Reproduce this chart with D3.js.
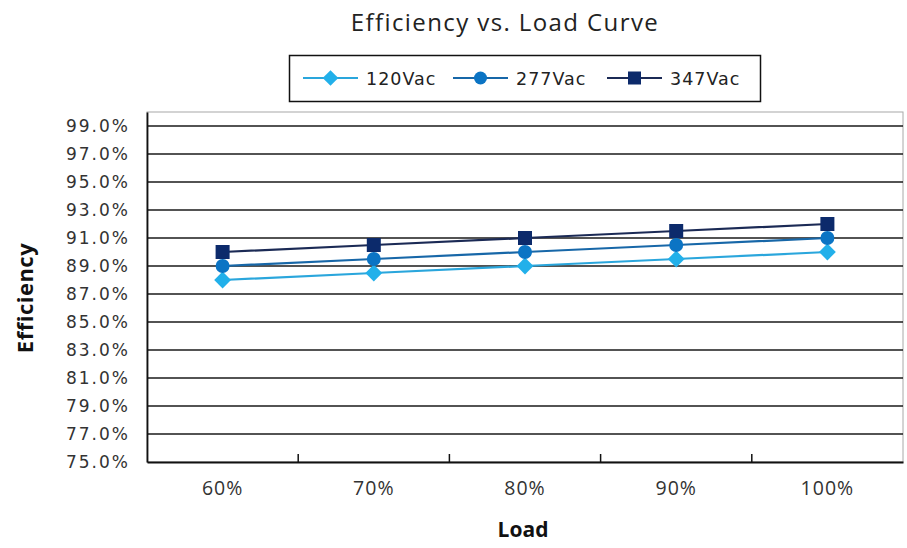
<!DOCTYPE html>
<html>
<head>
<meta charset="utf-8">
<script src="https://cdn.jsdelivr.net/npm/d3@7"></script>
<style>
  html, body { margin: 0; padding: 0; background: #fff; }
  svg { display: block; }
</style>
</head>
<body>
<svg id="chart" width="907" height="548"></svg>
<script>
// Load points along the x axis
const loads = ["60%", "70%", "80%", "90%", "100%"];
// Efficiency (%) per input voltage
const eff120 = [88.0, 88.5, 89.0, 89.5, 90.0];
const eff277 = [89.0, 89.5, 90.0, 90.5, 91.0];
const eff347 = [90.0, 90.5, 91.0, 91.5, 92.0];
const seriesNames = ["120Vac", "277Vac", "347Vac"];
// Y axis tick values
const yTicks = [75, 77, 79, 81, 83, 85, 87, 89, 91, 93, 95, 97, 99];

const series = [
  { name: seriesNames[0], values: eff120, color: "#22b0ea", line: "#2aa6dc", marker: "diamond" },
  { name: seriesNames[1], values: eff277, color: "#0b74c4", line: "#1767a8", marker: "circle" },
  { name: seriesNames[2], values: eff347, color: "#0c2a6b", line: "#1b2a55", marker: "square" }
];

const svg = d3.select("#chart");
const plot = { left: 147, right: 903, top: 112, bottom: 462 };

const x = d3.scaleBand().domain(loads).range([plot.left, plot.right]);
const y = d3.scaleLinear().domain([75, 100]).range([plot.bottom, plot.top]);

// Plot frame (light top/right edges)
svg.append("rect")
  .attr("x", plot.left).attr("y", plot.top)
  .attr("width", plot.right - plot.left).attr("height", plot.bottom - plot.top)
  .attr("fill", "#fff").attr("stroke", "#a8a8a8").attr("stroke-width", 1);

// Horizontal gridlines
svg.append("g")
  .selectAll("line")
  .data(yTicks.slice(1))
  .join("line")
  .attr("x1", plot.left).attr("x2", plot.right)
  .attr("y1", d => y(d)).attr("y2", d => y(d))
  .attr("stroke", "#1a1a1a").attr("stroke-width", 1.6);

// Y axis
const yAxis = svg.append("g")
  .attr("transform", `translate(${plot.left},0)`)
  .call(d3.axisLeft(y).tickValues(yTicks).tickSize(0).tickPadding(17)
    .tickFormat(d => d.toFixed(1) + "%"));
yAxis.select(".domain").attr("stroke", "#111").attr("stroke-width", 1.8);
yAxis.selectAll("text")
  .attr("font-family", "DejaVu Sans, Verdana, sans-serif")
  .attr("font-size", 17)
  .attr("letter-spacing", 2)
  .attr("fill", "#333");

// X axis with inward tick marks at category boundaries
const xAxis = svg.append("g")
  .attr("transform", `translate(0,${plot.bottom})`)
  .call(d3.axisBottom(x).tickSize(0).tickPadding(19));
xAxis.select(".domain").attr("stroke", "#111").attr("stroke-width", 1.8);
xAxis.selectAll("text")
  .attr("font-family", "Open Sans, sans-serif")
  .attr("font-size", 19.5)
  .attr("letter-spacing", 1)
  .attr("fill", "#333");
xAxis.selectAll(".boundary")
  .data(loads.slice(1))
  .join("line")
  .attr("class", "boundary")
  .attr("x1", d => x(d)).attr("x2", d => x(d))
  .attr("y1", 0).attr("y2", -8)
  .attr("stroke", "#111").attr("stroke-width", 1.5);

// Marker shapes
function drawMarker(sel, kind, color, size) {
  if (kind === "square") {
    sel.append("rect")
      .attr("x", -size / 2).attr("y", -size / 2)
      .attr("width", size).attr("height", size)
      .attr("fill", color);
  } else if (kind === "circle") {
    sel.append("circle").attr("r", size / 2).attr("fill", color);
  } else {
    const h = size * 0.6;
    sel.append("path")
      .attr("d", `M0,${-h}L${h},0L0,${h}L${-h},0Z`)
      .attr("fill", color);
  }
}

const line = d3.line()
  .x((d, i) => x(loads[i]) + x.bandwidth() / 2)
  .y(d => y(d));

const dataG = svg.append("g");
series.forEach(s => {
  dataG.append("path")
    .datum(s.values)
    .attr("d", line)
    .attr("fill", "none")
    .attr("stroke", s.line)
    .attr("stroke-width", 2.2);
});
series.forEach(s => {
  s.values.forEach((v, i) => {
    const g = dataG.append("g")
      .attr("transform", `translate(${x(loads[i]) + x.bandwidth() / 2},${y(v)})`);
    drawMarker(g, s.marker, s.color, 14);
  });
});

// Title
svg.append("text")
  .attr("x", 505).attr("y", 31)
  .attr("text-anchor", "middle")
  .attr("font-family", "Open Sans, sans-serif")
  .attr("font-size", 24)
  .attr("letter-spacing", 1.4)
  .attr("fill", "#222")
  .text("Efficiency vs. Load Curve");

// Axis titles
svg.append("text")
  .attr("x", 523).attr("y", 537)
  .attr("text-anchor", "middle")
  .attr("font-family", "Open Sans, sans-serif")
  .attr("font-weight", "bold")
  .attr("font-size", 21)
  .attr("fill", "#111")
  .text("Load");

svg.append("text")
  .attr("transform", "translate(33,298) rotate(-90)")
  .attr("text-anchor", "middle")
  .attr("font-family", "Open Sans, sans-serif")
  .attr("font-weight", "bold")
  .attr("font-size", 22)
  .attr("letter-spacing", 0.5)
  .attr("fill", "#111")
  .text("Efficiency");

// Legend
const legend = svg.append("g");
legend.append("rect")
  .attr("x", 289.5).attr("y", 55.5)
  .attr("width", 471).attr("height", 46)
  .attr("fill", "#fff").attr("stroke", "#111").attr("stroke-width", 1.5);
const legendX = [303, 453, 607];
series.forEach((s, i) => {
  const g = legend.append("g").attr("transform", `translate(${legendX[i]},78)`);
  g.append("line").attr("x1", 0).attr("x2", 55).attr("y1", 0).attr("y2", 0)
    .attr("stroke", s.line).attr("stroke-width", 2.2);
  const m = g.append("g").attr("transform", "translate(27.5,0)");
  drawMarker(m, s.marker, s.color, 13);
  g.append("text")
    .attr("x", 63).attr("y", 6.5)
    .attr("font-family", "DejaVu Sans, Verdana, sans-serif")
    .attr("font-size", 17.5)
    .attr("letter-spacing", 1)
    .attr("fill", "#222")
    .text(s.name);
});
</script>
</body>
</html>
